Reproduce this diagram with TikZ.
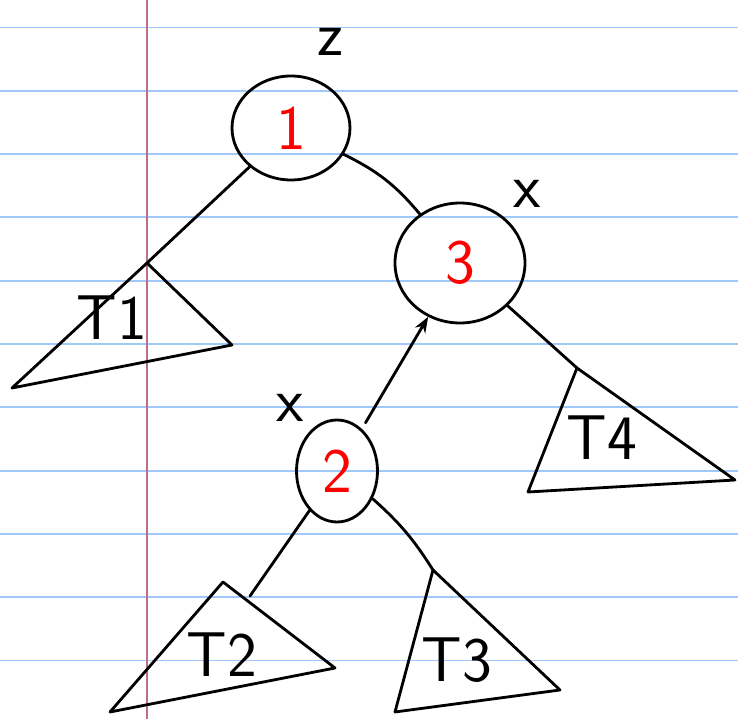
\documentclass[tikz,border=0pt]{standalone}
\usepackage{tikz}
\usetikzlibrary{
    arrows.meta,
    shapes.geometric
}
\definecolor{paperblue}{RGB}{160,200,250}
\definecolor{marginred}{RGB}{190,110,140}

\begin{document}
\begin{tikzpicture}[x=0.02cm,y=-0.02cm,line width=1.6pt,line cap=round,line join=round,
    treenode/.style={draw,ellipse,inner sep=0pt,text=red,
        font=\fontsize{36}{36}\selectfont\sffamily},
    hand/.style={font=\fontsize{36}{36}\selectfont\sffamily}]

\useasboundingbox[fill=white] (0,0) rectangle (738,719);

% Ruled paper
\foreach \y in {0,...,10}{
    \draw[line width=1.1pt,paperblue] (0,27.5+63.3*\y) -- (738,27.5+63.3*\y);
}
\draw[line width=1.1pt,marginred] (147,0) -- (147,719);

% Tree nodes
\node[treenode,minimum width=2.36cm,minimum height=2.08cm] (n1) at (291,128) {1};
\node[treenode,minimum width=2.6cm,minimum height=2.4cm] (n3) at (460,263) {3};
\node[treenode,minimum width=1.62cm,minimum height=2.04cm] (n2) at (337,471) {2};

\node[hand] (z) at (330,42) {z};
\node[hand] (x3) at (527,194) {x};
\node[hand] (x2) at (290,408) {x};

% Subtrees
\coordinate (t1) at (147,263);
\draw (t1) -- (12,388) -- (232,345) -- cycle;
\node[hand] (lt1) at (112,318) {T1};

\coordinate (t4) at (577,368);
\draw (t4) -- (528,492) -- (735,480) -- cycle;
\node[hand] (lt4) at (602,438) {T4};

\coordinate (t2) at (223,582);
\coordinate (t2e) at (250,596);
\draw (t2) -- (110,712) -- (335,668) -- cycle;
\node[hand] (lt2) at (222,655) {T2};

\coordinate (t3) at (433,570);
\draw (t3) -- (395,712) -- (560,690) -- cycle;
\node[hand] (lt3) at (457,660) {T3};

% Edges
\draw (n1) -- (t1);
\draw (n1) to[bend left=12] (n3);
\draw[-{Stealth[length=9pt]},shorten <=4pt] (n2) -- (n3);
\draw (n3) -- (t4);
\draw (n2) -- (t2e);
\draw (n2) to[bend left=8] (t3);

\end{tikzpicture}
\end{document}
